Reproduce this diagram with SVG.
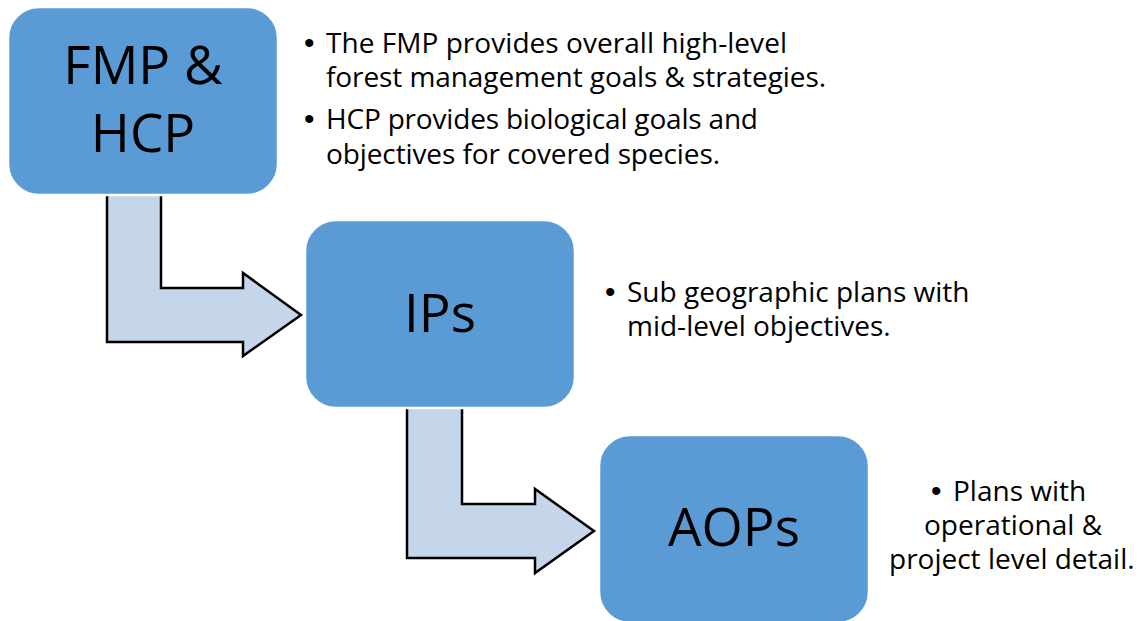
<svg xmlns="http://www.w3.org/2000/svg" width="1143" height="621" viewBox="0 0 1143 621">
  <style>
    .box { fill: #5B9BD5; stroke: #FFFFFF; stroke-width: 2.5; }
    .arrow { fill: #C5D5EA; stroke: #000000; stroke-width: 2.5; stroke-linejoin: miter; }
    .label { font-family: "Open Sans", "Liberation Sans", sans-serif; font-size: 53px; fill: #000000; text-anchor: middle; }
    .note { font-family: "Open Sans", "Liberation Sans", sans-serif; font-size: 28px; fill: #000000; }
    .bullet { font-family: "Liberation Sans", sans-serif; font-size: 30px; }
  </style>
  <rect width="1143" height="621" fill="#FFFFFF"/>
  <g id="connectors">
    <path class="arrow" d="M107,185 L161,185 L161,288 L243,288 L243,273 L301,315 L243,356 L243,342 L107,342 Z"/>
    <path class="arrow" d="M407,400 L462,400 L462,504 L535,504 L535,489 L594,531 L535,573 L535,558 L407,558 Z"/>
  </g>
  <g id="node-fmp-hcp">
    <rect class="box" x="8" y="7" width="270" height="188" rx="31" ry="31"/>
    <text class="label" x="143" y="84">FMP &amp;<tspan x="143" y="152">HCP</tspan></text>
  </g>
  <g id="node-ips">
    <rect class="box" x="305" y="220" width="270" height="188" rx="31" ry="31"/>
    <text class="label" x="440" y="332">IPs</text>
  </g>
  <g id="node-aops">
    <rect class="box" x="599" y="435" width="270" height="188" rx="31" ry="31"/>
    <text class="label" x="734" y="546">AOPs</text>
  </g>
  <g id="notes-fmp-hcp">
    <text class="note"><tspan class="bullet" x="304" y="53">•</tspan><tspan x="326" y="53" textLength="461">The FMP provides overall high-level</tspan><tspan x="326" y="87" textLength="500">forest management goals &amp; strategies.</tspan><tspan class="bullet" x="304" y="129">•</tspan><tspan x="326" y="129" textLength="432">HCP provides biological goals and</tspan><tspan x="326" y="164" textLength="394">objectives for covered species.</tspan></text>
  </g>
  <g id="notes-ips">
    <text class="note"><tspan class="bullet" x="605" y="302">•</tspan><tspan x="627" y="302">Sub geographic plans with</tspan><tspan x="627" y="336">mid-level objectives.</tspan></text>
  </g>
  <g id="notes-aops">
    <text class="note"><tspan class="bullet" x="931" y="501">•</tspan><tspan x="953" y="501">Plans with</tspan><tspan x="924" y="535">operational &amp;</tspan><tspan x="889" y="569">project level detail.</tspan></text>
  </g>
</svg>
